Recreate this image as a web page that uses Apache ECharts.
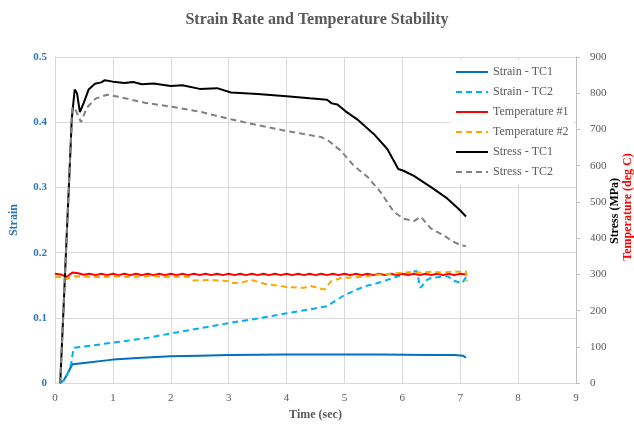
<!DOCTYPE html>
<html>
<head>
<meta charset="utf-8">
<script src="https://cdn.jsdelivr.net/npm/echarts@6/dist/echarts.min.js"></script>
<style>
  html, body { margin: 0; padding: 0; background: #fff; }
  #chart { width: 634px; height: 426px; }
</style>
</head>
<body>
<div id="chart"></div>
<script>
// time axis ticks (sec)
const timeTicks = [0, 1, 2, 3, 4, 5, 6, 7, 8, 9];

// Strain - TC1
const strainTc1Time = [0.08, 0.15, 0.22, 0.3, 0.5, 1.0, 1.5, 2.0, 2.5, 3.0, 4.0, 5.0, 5.6, 6.5, 6.9, 7.05, 7.1];
const strainTc1 = [0, 0.004, 0.015, 0.029, 0.031, 0.036, 0.039, 0.041, 0.042, 0.043, 0.044, 0.044, 0.044, 0.043, 0.043, 0.042, 0.039];

// Strain - TC2
const strainTc2Time = [0.08, 0.15, 0.22, 0.28, 0.32, 0.5, 1.0, 1.5, 2.0, 2.5, 3.0, 3.5, 4.0, 4.4, 4.7, 5.0, 5.33, 5.56, 5.9, 6.17, 6.25, 6.31, 6.42, 6.49, 6.66, 6.78, 6.89, 7.03, 7.12];
const strainTc2 = [0, 0.004, 0.015, 0.03, 0.054, 0.056, 0.062, 0.068, 0.076, 0.084, 0.092, 0.099, 0.107, 0.113, 0.118, 0.135, 0.148, 0.153, 0.163, 0.171, 0.172, 0.146, 0.158, 0.161, 0.163, 0.164, 0.157, 0.153, 0.165];

// Temperature #1 (deg C)
const temp1Time = [0.0, 0.1, 0.2, 0.3, 0.4, 0.5, 0.6, 0.7, 0.8, 0.9, 1.0, 1.1, 1.2, 1.3, 1.4, 1.5, 1.6, 1.7, 1.8, 1.9,
  2.0, 2.1, 2.2, 2.3, 2.4, 2.5, 2.6, 2.7, 2.8, 2.9, 3.0, 3.1, 3.2, 3.3, 3.4, 3.5, 3.6, 3.7, 3.8, 3.9,
  4.0, 4.1, 4.2, 4.3, 4.4, 4.5, 4.6, 4.7, 4.8, 4.9, 5.0, 5.1, 5.2, 5.3, 5.4, 5.5, 5.6, 5.7, 5.8, 5.9,
  6.0, 6.1, 6.2, 6.3, 6.4, 6.5, 6.6, 6.7, 6.8, 6.9, 7.0, 7.1];
const temp1 = [302, 300, 293, 305, 303, 299, 302, 298, 302, 298, 302, 298, 302, 298, 302, 298, 302, 298, 302, 298,
  302, 298, 302, 298, 302, 298, 302, 298, 302, 298, 302, 298, 302, 298, 302, 298, 302, 298, 302, 298,
  302, 298, 302, 298, 302, 298, 302, 298, 302, 298, 302, 298, 302, 298, 302, 298, 302, 298, 302, 298,
  302, 298, 302, 298, 302, 298, 302, 298, 302, 298, 302, 300];

// Temperature #2 (deg C)
const temp2Time = [0, 0.1, 0.2, 0.3, 0.5, 0.8, 1.0, 1.3, 1.6, 2.0, 2.3, 2.4, 2.7, 3.0, 3.05, 3.2, 3.39, 3.62, 4.02, 4.3, 4.42, 4.65, 4.77, 4.94, 5.22, 5.56, 5.9, 6.1, 6.3, 6.5, 6.7, 6.9, 7.05, 7.1, 7.11];
const temp2 = [293, 292, 287, 295, 294, 292, 295, 293, 295, 293, 294, 283, 285, 281, 276, 276, 285, 274, 265, 263, 268, 258, 281, 290, 292, 299, 303, 306, 305, 307, 305, 308, 306, 309, 280];

// Stress - TC1 (MPa)
const stressTc1Time = [0.09, 0.15, 0.2, 0.25, 0.29, 0.34, 0.38, 0.43, 0.5, 0.58, 0.69, 0.8, 0.86, 1.0, 1.2, 1.35, 1.5, 1.7, 2.0, 2.2, 2.5, 2.8, 3.04, 3.5, 4.0, 4.4, 4.7, 4.73, 4.78, 4.88, 5.02, 5.22, 5.51, 5.74, 5.93, 6.02, 6.2, 6.54, 6.78, 6.97, 7.1];
const stressTc1 = [0, 215, 400, 580, 730, 810, 800, 748, 775, 810, 826, 830, 836, 832, 828, 831, 825, 827, 820, 822, 812, 814, 802, 798, 792, 786, 782, 787, 772, 769, 750, 728, 687, 646, 591, 586, 572, 536, 509, 481, 460];

// Stress - TC2 (MPa)
const stressTc2Time = [0.09, 0.15, 0.2, 0.25, 0.3, 0.34, 0.45, 0.55, 0.7, 0.9, 1.1, 1.55, 2.0, 2.53, 3.04, 3.5, 4.0, 4.6, 4.73, 4.94, 5.16, 5.4, 5.62, 5.85, 6.02, 6.2, 6.32, 6.49, 6.71, 6.86, 7.0, 7.1];
const stressTc2 = [0, 215, 400, 580, 760, 760, 720, 760, 785, 796, 790, 774, 763, 748, 728, 712, 696, 679, 668, 641, 600, 569, 528, 473, 454, 447, 459, 427, 408, 392, 381, 378];

const serif = 'Liberation Serif';
const grey = '#595959';
const strainBlue = '#2E75B6';

function pairs(ts, vs) {
  return ts.map((t, i) => [t, vs[i]]);
}

function lineSeries(name, ts, vs, color, dashed, axis) {
  return {
    name: name,
    type: 'line',
    yAxisIndex: axis,
    data: pairs(ts, vs),
    showSymbol: false,
    symbol: 'none',
    lineStyle: { color: color, width: 2, type: dashed ? [6, 4] : 'solid' },
    itemStyle: { color: color }
  };
}

const myChart = echarts.init(document.getElementById('chart'));
const options = {
  animation: false,
  title: {
    text: 'Strain Rate and Temperature Stability',
    left: 'center',
    top: 7,
    textStyle: { fontFamily: serif, fontWeight: 'bold', fontSize: 16, color: grey }
  },
  grid: { left: 53, right: 58, top: 57, bottom: 38 },
  legend: {
    orient: 'vertical',
    left: 450,
    top: 60,
    padding: [5, 5],
    itemGap: 6,
    itemWidth: 32,
    itemHeight: 14,
    backgroundColor: '#fff',
    itemStyle: { opacity: 0 },
    textStyle: { fontFamily: serif, fontSize: 12, color: grey, lineHeight: 14 },
    data: ['Strain - TC1', 'Strain - TC2', 'Temperature #1', 'Temperature #2', 'Stress - TC1', 'Stress - TC2']
  },
  xAxis: {
    type: 'value',
    min: timeTicks[0],
    max: timeTicks[timeTicks.length - 1],
    interval: 1,
    name: 'Time (sec)',
    nameLocation: 'middle',
    nameGap: 24,
    nameTextStyle: { fontFamily: serif, fontWeight: 'bold', fontSize: 12, color: grey },
    axisLine: { lineStyle: { color: '#D9D9D9' } },
    axisTick: { show: false },
    axisLabel: { margin: 10, fontFamily: serif, fontSize: 11, color: grey },
    splitLine: { lineStyle: { color: '#D9D9D9' } }
  },
  yAxis: [
    {
      type: 'value',
      min: 0,
      max: 0.5,
      interval: 0.1,
      name: 'Strain',
      nameLocation: 'middle',
      nameGap: 35,
      nameTextStyle: { fontFamily: serif, fontWeight: 'bold', fontSize: 12, color: strainBlue },
      axisLine: { show: true, lineStyle: { color: '#D9D9D9' } },
      axisTick: { show: false },
      axisLabel: { margin: 8, fontFamily: serif, fontWeight: 'bold', fontSize: 11, color: strainBlue },
      splitLine: { lineStyle: { color: '#D9D9D9' } }
    },
    {
      type: 'value',
      min: 0,
      max: 900,
      interval: 100,
      position: 'right',
      axisLine: { show: true, lineStyle: { color: '#BFBFBF' } },
      axisTick: { show: true, length: 4, lineStyle: { color: '#BFBFBF' } },
      axisLabel: { margin: 14, fontFamily: serif, fontSize: 11, color: grey },
      splitLine: { show: false }
    }
  ],
  graphic: [
    {
      type: 'text',
      x: 615, y: 211,
      rotation: Math.PI / 2,
      style: { text: 'Stress (MPa)', fill: '#000', font: 'bold 12px "Liberation Serif"', align: 'center', verticalAlign: 'middle' }
    },
    {
      type: 'text',
      x: 628, y: 207,
      rotation: Math.PI / 2,
      style: { text: 'Temperature (deg C)', fill: '#FF0000', font: 'bold 12px "Liberation Serif"', align: 'center', verticalAlign: 'middle' }
    }
  ],
  series: [
    lineSeries('Strain - TC1', strainTc1Time, strainTc1, '#0070C0', false, 0),
    lineSeries('Strain - TC2', strainTc2Time, strainTc2, '#00B0F0', true, 0),
    lineSeries('Temperature #1', temp1Time, temp1, '#FF0000', false, 1),
    lineSeries('Temperature #2', temp2Time, temp2, '#FFA500', true, 1),
    lineSeries('Stress - TC1', stressTc1Time, stressTc1, '#000000', false, 1),
    lineSeries('Stress - TC2', stressTc2Time, stressTc2, '#808080', true, 1)
  ]
};
myChart.setOption(options);
</script>
</body>
</html>
